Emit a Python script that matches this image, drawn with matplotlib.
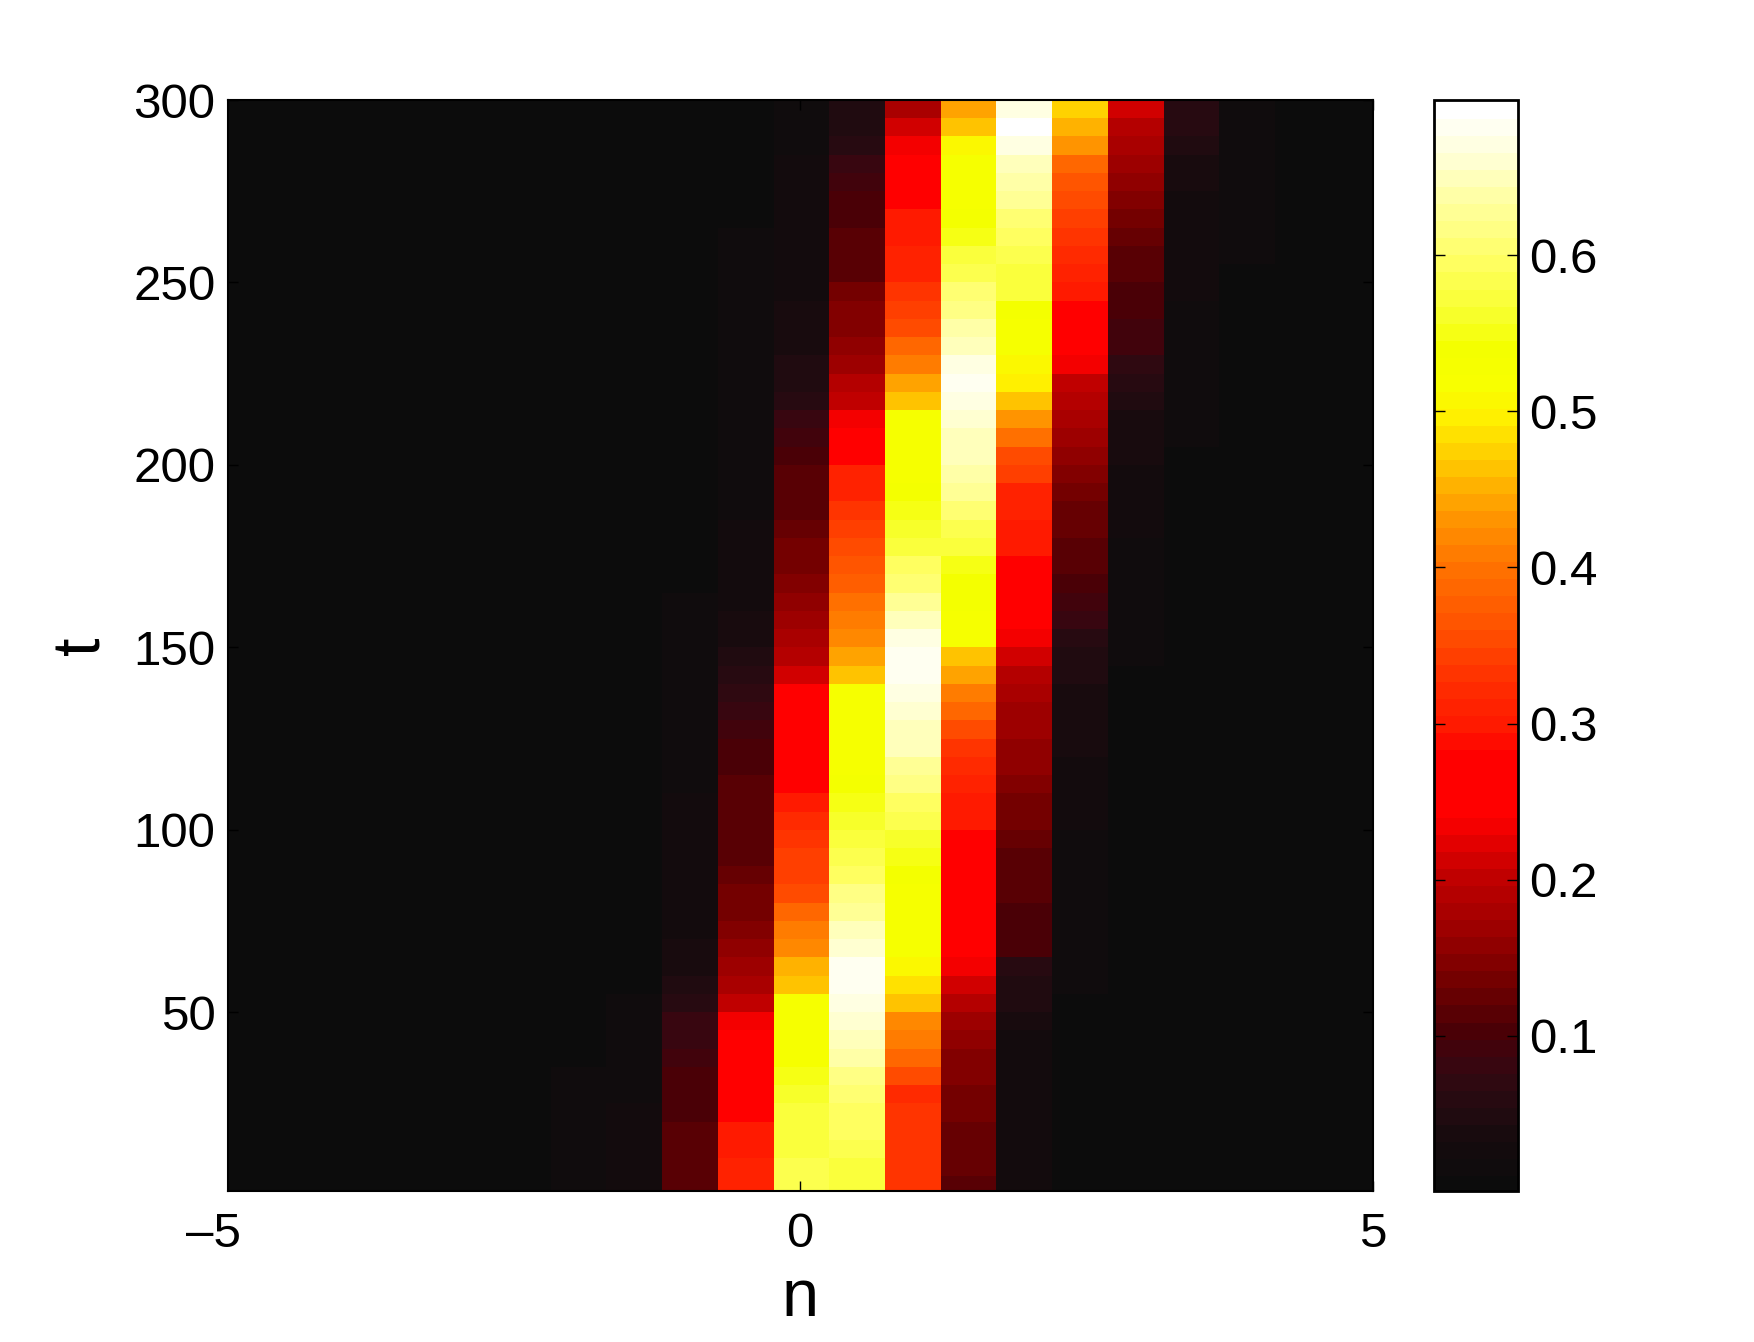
"""Time evolution of a drifting lattice soliton, drawn as a heat map with colorbar."""
import numpy as np
import matplotlib
matplotlib.use("Agg")
import matplotlib.pyplot as plt
from matplotlib.colors import LinearSegmentedColormap
from matplotlib.transforms import ScaledTranslation

plt.rcParams["font.family"] = ["Liberation Sans", "DejaVu Sans"]

# upper edge of each band of rows, t = 5, 10, ... 300
T_TOP = [5, 10, 15, 20, 25, 30, 35, 40, 45, 50, 55, 60, 65, 70, 75, 80, 85, 90, 95, 100,
         105, 110, 115, 120, 125, 130, 135, 140, 145, 150, 155, 160, 165, 170, 175, 180, 185, 190, 195, 200,
         205, 210, 215, 220, 225, 230, 235, 240, 245, 250, 255, 260, 265, 270, 275, 280, 285, 290, 295, 300]

# site values, bottom row first
site_m4 = [.014, .014, .014, .013, .013, .012, .012, .011, .008, .005, .005, .005, .005, .005, .005, .005, .005, .005, .005, .005,
           .005, .005, .005, .005, .005, .005, .005, .005, .005, .005, .005, .005, .005, .005, .005, .005, .005, .005, .005, .005,
           .005, .005, .005, .005, .005, .005, .005, .005, .005, .005, .005, .005, .005, .005, .005, .005, .005, .005, .005, .005]
site_m3 = [.028, .028, .026, .025, .024, .022, .020, .018, .016, .014, .012, .010, .009, .008, .008, .008, .007, .007, .007, .007,
           .007, .007, .006, .006, .006, .005, .005, .005, .005, .005, .005, .005, .005, .005, .005, .005, .005, .005, .005, .005,
           .005, .005, .005, .005, .005, .005, .005, .005, .005, .005, .005, .005, .005, .005, .005, .005, .005, .005, .005, .005]
site_m2 = [.120, .120, .115, .115, .105, .100, .100, .095, .085, .080, .060, .050, .040, .035, .030, .028, .027, .026, .025, .025,
           .024, .023, .022, .020, .020, .019, .018, .017, .016, .015, .013, .012, .012, .011, .011, .010, .010, .010, .009, .009,
           .008, .008, .007, .007, .007, .007, .006, .006, .006, .006, .005, .005, .005, .005, .005, .005, .005, .005, .005, .005]
site_m1 = [.315, .315, .305, .300, .270, .260, .260, .260, .260, .240, .200, .185, .170, .160, .150, .140, .135, .130, .120, .115,
           .115, .115, .110, .105, .100, .090, .080, .070, .060, .045, .038, .034, .030, .028, .026, .025, .024, .022, .022, .022,
           .022, .021, .020, .019, .018, .018, .016, .015, .014, .013, .012, .012, .012, .011, .010, .009, .008, .008, .007, .007]
site_0 = [.585, .585, .575, .570, .570, .565, .550, .535, .530, .530, .530, .465, .450, .420, .405, .385, .360, .350, .340, .330,
          .320, .300, .260, .260, .260, .260, .260, .250, .210, .195, .180, .170, .160, .150, .140, .135, .130, .120, .115, .110,
          .100, .095, .080, .060, .055, .045, .040, .036, .034, .032, .030, .030, .030, .028, .027, .026, .025, .022, .020, .018]
site_1 = [.575, .575, .585, .600, .600, .610, .620, .635, .650, .660, .675, .685, .680, .665, .650, .630, .615, .600, .585, .575,
          .565, .550, .540, .535, .530, .530, .530, .530, .470, .445, .420, .410, .395, .380, .365, .355, .340, .330, .315, .310,
          .280, .260, .235, .205, .195, .175, .160, .150, .145, .135, .120, .115, .115, .105, .100, .090, .080, .060, .055, .045]
site_2 = [.330, .330, .330, .330, .330, .325, .355, .390, .405, .425, .470, .490, .510, .530, .530, .530, .535, .540, .550, .560,
          .580, .600, .615, .630, .645, .655, .665, .675, .685, .680, .670, .650, .625, .610, .600, .575, .565, .555, .540, .530,
          .530, .530, .530, .470, .445, .415, .385, .355, .340, .330, .315, .310, .305, .300, .260, .260, .260, .230, .210, .185]
site_3 = [.120, .125, .125, .130, .135, .140, .145, .150, .160, .175, .195, .210, .230, .250, .260, .260, .260, .260, .260, .260,
          .300, .305, .310, .325, .330, .355, .385, .410, .440, .470, .530, .530, .540, .545, .550, .570, .590, .610, .625, .640,
          .645, .650, .665, .675, .685, .670, .655, .635, .620, .610, .580, .570, .550, .540, .535, .530, .530, .510, .465, .445]
site_4 = [.025, .025, .025, .025, .027, .028, .030, .030, .032, .035, .045, .050, .060, .100, .100, .105, .110, .115, .120, .125,
          .135, .140, .150, .160, .160, .170, .175, .185, .195, .215, .240, .250, .260, .260, .260, .300, .305, .310, .315, .340,
          .360, .400, .430, .460, .500, .510, .530, .535, .545, .570, .575, .585, .600, .610, .625, .635, .650, .670, .690, .670]
site_5 = [.007, .007, .007, .007, .008, .008, .008, .008, .009, .010, .010, .012, .013, .014, .015, .016, .017, .018, .020, .020,
          .024, .028, .030, .032, .035, .038, .040, .040, .045, .050, .060, .080, .090, .100, .110, .115, .125, .130, .140, .150,
          .160, .175, .180, .190, .200, .230, .250, .260, .260, .300, .315, .320, .330, .340, .360, .370, .385, .435, .450, .475]
site_6 = [.006, .006, .006, .006, .006, .006, .006, .006, .006, .006, .006, .006, .007, .007, .007, .007, .007, .007, .008, .008,
          .008, .008, .008, .009, .009, .009, .010, .010, .011, .012, .013, .014, .015, .017, .019, .022, .023, .025, .028, .030,
          .035, .040, .043, .050, .060, .070, .090, .095, .100, .105, .115, .120, .130, .140, .145, .160, .175, .185, .195, .210]
site_7 = [.005, .005, .005, .005, .005, .005, .005, .005, .005, .005, .005, .005, .005, .005, .005, .005, .005, .005, .005, .005,
          .005, .005, .005, .005, .005, .006, .006, .006, .006, .006, .007, .007, .007, .008, .008, .008, .009, .010, .010, .010,
          .011, .012, .013, .014, .015, .016, .018, .020, .022, .024, .026, .027, .028, .030, .032, .035, .040, .045, .060, .060]
site_8 = [.005, .005, .005, .005, .005, .005, .005, .005, .005, .005, .005, .005, .005, .005, .005, .005, .005, .005, .005, .005,
          .005, .005, .005, .005, .005, .005, .005, .005, .005, .005, .005, .005, .005, .005, .005, .005, .005, .005, .005, .005,
          .005, .005, .006, .006, .007, .008, .008, .009, .010, .010, .011, .012, .012, .013, .013, .014, .015, .017, .020, .020]
BACKGROUND = .005  # the sites far from the pulse stay flat

sites = [site_m4, site_m3, site_m2, site_m1, site_0, site_1, site_2, site_3, site_4, site_5, site_6, site_7, site_8]
SITE_SPACING = 0.487
SITE_OFFSET = 0.01

CBAR_TICKS = [0.1, 0.2, 0.3, 0.4, 0.5, 0.6]
T_TICKS = [50, 100, 150, 200, 250, 300]
N_TICKS = [-5, 0, 5]
N_TICK_LABELS = ["\u20135", "0", "5"]
VMIN, VMAX = 0.0004, 0.6996

# a "hot" map whose low end fades to dark grey, sampled off the reference colorbar
CMAP_ANCHORS = [
    (0.00, "#0c0c0c"), (0.03, "#160b0e"), (0.06, "#2a0a12"), (0.08, "#3a0610"),
    (0.10, "#4a0006"), (0.13, "#700000"), (0.16, "#960000"), (0.20, "#c00000"),
    (0.24, "#ff0000"), (0.28, "#ff0000"), (0.30, "#ff1a00"), (0.33, "#ff3000"),
    (0.36, "#ff5000"), (0.40, "#ff7000"), (0.43, "#ff9000"), (0.45, "#ffaa00"),
    (0.47, "#ffc800"), (0.50, "#fff000"), (0.52, "#f8ff00"), (0.545, "#f4ff00"),
    (0.57, "#f8ff30"), (0.60, "#ffff60"), (0.65, "#ffffb0"), (0.67, "#ffffd8"),
    (0.70, "#ffffff"),
]
hot_grey = LinearSegmentedColormap.from_list(
    "hot_grey", [(v / 0.70, c) for v, c in CMAP_ANCHORS], N=64
)

WIDTH, HEIGHT = 1754, 1342
fig = plt.figure(figsize=(WIDTH / 100, HEIGHT / 100), dpi=100)
ax = fig.add_axes([228 / WIDTH, 1 - 1191 / HEIGHT, (1372.5 - 228) / WIDTH, (1191 - 100) / HEIGHT])
cax = fig.add_axes([1434 / WIDTH, 1 - 1191 / HEIGHT, (1518 - 1434) / WIDTH, (1191 - 100) / HEIGHT])

# 21 columns in all, the outermost ones are clipped by the x limits
n_left = [-10, -9, -8, -7, -6, -5]
n_right = [9, 10]
columns = [[BACKGROUND] * len(T_TOP) for _ in n_left] + sites + [[BACKGROUND] * len(T_TOP) for _ in n_right]
site_index = n_left + list(range(-4, 9)) + n_right
x_edges = [(k - 0.5) * SITE_SPACING + SITE_OFFSET for k in site_index]
x_edges.append((site_index[-1] + 0.5) * SITE_SPACING + SITE_OFFSET)
t_edges = [1] + T_TOP
grid = np.array(columns).T

mesh = ax.pcolormesh(x_edges, t_edges, grid, cmap=hot_grey, vmin=VMIN, vmax=VMAX,
                     shading="flat", antialiased=False, linewidth=0)
ax.set_xlim(-5, 5)
ax.set_ylim(1, 300)
ax.set_xticks(N_TICKS, N_TICK_LABELS)
ax.set_yticks(T_TICKS)
ax.tick_params(axis="both", direction="in", top=True, right=True, length=7.5, width=1.0,
               labelsize=35.5, color="black")
ax.tick_params(axis="x", pad=15)
ax.tick_params(axis="y", pad=9)
ax.set_xlabel("n", fontsize=48, labelpad=8)
ax.set_ylabel("t", fontsize=48, labelpad=14)
for spine in ax.spines.values():
    spine.set_linewidth(1.5)

# the minus sign sticks out to the left, as in the original export
shift = ScaledTranslation(-0.14, 0, fig.dpi_scale_trans)
first_label = ax.get_xticklabels()[0]
first_label.set_transform(first_label.get_transform() + shift)

cbar = fig.colorbar(mesh, cax=cax)
cbar.set_ticks(CBAR_TICKS, labels=[f"{v:.1f}" for v in CBAR_TICKS])
cbar.solids.set_edgecolor("face")
cax.tick_params(axis="y", direction="in", left=True, right=True, length=8, width=1.0,
                labelsize=35.5, pad=8)
cbar.outline.set_linewidth(2.0)

fig.savefig("out.png", dpi=100)
plt.close(fig)
